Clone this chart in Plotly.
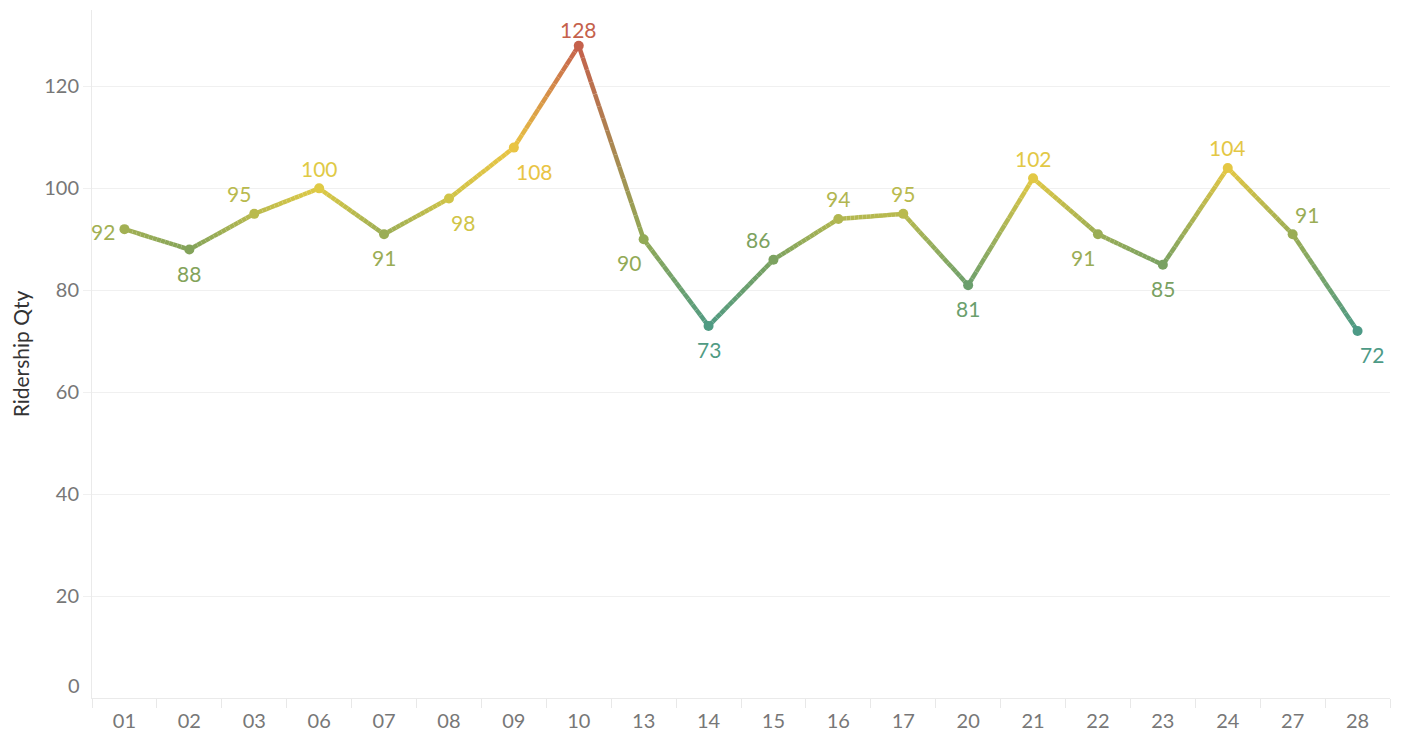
import plotly.graph_objects as go

days = ["01", "02", "03", "06", "07", "08", "09", "10", "13", "14",
        "15", "16", "17", "20", "21", "22", "23", "24", "27", "28"]
ridership = [92, 88, 95, 100, 91, 98, 108, 128, 90, 73,
             86, 94, 95, 81, 102, 91, 85, 104, 91, 72]
label_pos = ["middle left", "bottom center", "top left", "top center", "bottom center",
             "bottom right", "bottom right", "top center", "bottom left", "bottom center",
             "top left", "top center", "top center", "bottom center", "top center",
             "bottom left", "bottom center", "top center", "top right", "bottom right"]

# colour ramp (value -> colour), Tableau-style diverging
ramp_vals = [72, 88, 100, 108, 118, 128]
ramp_cols = ["#4d9a86", "#83a35a", "#dfca45", "#e9c444", "#dc9348", "#c5614c"]


def hex2rgb(h):
    h = h.lstrip("#")
    return tuple(int(h[i:i + 2], 16) for i in (0, 2, 4))


def rgb_for(v):
    if v <= ramp_vals[0]:
        return hex2rgb(ramp_cols[0])
    if v >= ramp_vals[-1]:
        return hex2rgb(ramp_cols[-1])
    for i in range(len(ramp_vals) - 1):
        if ramp_vals[i] <= v <= ramp_vals[i + 1]:
            t = (v - ramp_vals[i]) / (ramp_vals[i + 1] - ramp_vals[i])
            a, b = hex2rgb(ramp_cols[i]), hex2rgb(ramp_cols[i + 1])
            return tuple(a[k] + (b[k] - a[k]) * t for k in range(3))


def css(rgb):
    return "rgb(%d,%d,%d)" % tuple(round(c) for c in rgb)


fig = go.Figure()
xs = list(range(len(days)))

# gradient line: each segment split into short pieces, blending the end-point colours
SUB = 16
for i in range(len(xs) - 1):
    x0, x1 = xs[i], xs[i + 1]
    y0, y1 = ridership[i], ridership[i + 1]
    c0, c1 = rgb_for(y0), rgb_for(y1)
    for k in range(SUB):
        ta, tb = k / SUB, (k + 1) / SUB
        tm = (ta + tb) / 2
        col = tuple(c0[j] + (c1[j] - c0[j]) * tm for j in range(3))
        fig.add_trace(go.Scatter(
            x=[x0 + (x1 - x0) * ta, x0 + (x1 - x0) * tb],
            y=[y0 + (y1 - y0) * ta, y0 + (y1 - y0) * tb],
            mode="lines",
            line=dict(color=css(col), width=4.5),
            hoverinfo="skip", showlegend=False,
        ))

point_cols = [css(rgb_for(v)) for v in ridership]
fig.add_trace(go.Scatter(
    x=xs, y=ridership, mode="markers",
    marker=dict(color=point_cols, size=10),
    showlegend=False,
    customdata=days,
    hovertemplate="%{customdata}: %{y}<extra></extra>",
))

# value labels, placed around each point like Tableau's automatic labels
for x, v, pos, col in zip(xs, ridership, label_pos, point_cols):
    vert, horiz = pos.split()
    if vert == "top":
        ys = 20
    elif vert == "bottom":
        ys = -23.5
    else:
        ys = -2
    if horiz == "left":
        xa, xsft = "right", (-7 if vert == "middle" else -1)
    elif horiz == "right":
        xa, xsft = "left", 0
    else:
        xa, xsft = "center", 0
    if v == max(ridership):
        ys = 16
    fig.add_annotation(x=x, y=v, xref="x", yref="y", text=str(v), showarrow=False,
                       xanchor=xa, yanchor="middle", xshift=xsft, yshift=ys,
                       font=dict(family="Lato", size=21, color=col))

fig.add_annotation(x=-0.5, y=0, xref="x", yref="y", text="0", showarrow=False,
                   xanchor="right", xshift=-10, yshift=13,
                   font=dict(family="Lato", size=20, color="#777777"))

fig.update_layout(
    width=1395, height=733,
    margin=dict(l=84, r=13, t=2, b=43),
    plot_bgcolor="white", paper_bgcolor="white",
    font=dict(family="Lato", color="#777777"),
    xaxis=dict(
        range=[-0.5, 19.5],
        tickvals=xs, ticktext=days,
        tickfont=dict(family="Lato", size=20, color="#777777"),
        ticklabelstandoff=5,
        showgrid=False, zeroline=False,
        showline=True, linecolor="#eaeaea", linewidth=1,
        ticks="", ticklen=0,
        minor=dict(tickvals=[x - 0.5 for x in xs] + [19.5], ticks="outside",
                   ticklen=9, tickcolor="#e8e8e8", tickwidth=1, showgrid=False),
        fixedrange=True,
    ),
    yaxis=dict(
        range=[0, 135],
        tickvals=[20, 40, 60, 80, 100, 120],
        tickfont=dict(family="Lato", size=20, color="#777777"),
        showgrid=True, gridcolor="#f0f0f0", gridwidth=1,
        zeroline=False,
        showline=True, linecolor="#eaeaea", linewidth=1,
        ticks="outside", ticklen=8, tickcolor="#f0f0f0",
        title=dict(text="Ridership Qty", font=dict(family="Lato", size=21, color="#333333"),
                   standoff=12),
        fixedrange=True,
    ),
)

fig.write_html("out.html")
